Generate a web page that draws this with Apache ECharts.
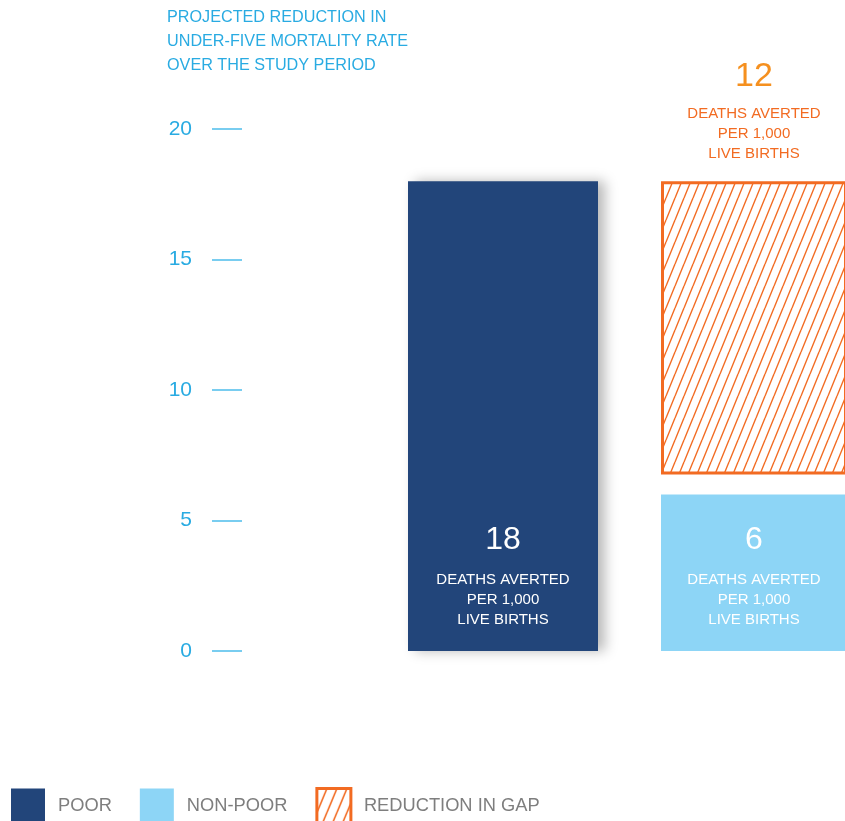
<!DOCTYPE html>
<html lang="en">
<head>
    <meta charset="UTF-8">
    <title>Under-five mortality</title>
    <script type="text/javascript" src="https://cdn.jsdelivr.net/npm/echarts@6/dist/echarts.min.js"></script>
    <style>
        html, body { margin: 0; padding: 0; background: #fff; }
        #chart { width: 845px; height: 821px; }
    </style>
</head>
<body>
<div id="chart"></div>
<script type="text/javascript">
    // data
    var categories = ['POOR', 'NON-POOR'];
    var seriesNames = ['POOR', 'NON-POOR', 'REDUCTION IN GAP'];
    var poorData = [18, '-'];
    var nonPoorData = ['-', 6];
    var gapData = ['-', 12];
    var yTicks = [0, 5, 10, 15, 20];
    var unitLines = ['DEATHS AVERTED', 'PER 1,000', 'LIVE BIRTHS'];
    var titleLines = ['PROJECTED REDUCTION IN', 'UNDER-FIVE MORTALITY RATE', 'OVER THE STUDY PERIOD'];

    var FONT = '"Liberation Sans", Arial, sans-serif';
    var NAVY = '#22457A';
    var SKY = '#8DD5F6';
    var ORANGE = '#F26B22';

    // diagonal hatch pattern
    function makeHatch(w, h, lw) {
        var c = document.createElement('canvas');
        c.width = w; c.height = h;
        var ctx = c.getContext('2d');
        ctx.fillStyle = '#fff';
        ctx.fillRect(0, 0, w, h);
        ctx.strokeStyle = ORANGE;
        ctx.lineWidth = lw;
        for (var k = -1; k <= 1; k++) {
            ctx.beginPath();
            ctx.moveTo(k * w, h);
            ctx.lineTo(k * w + w, 0);
            ctx.stroke();
        }
        return {image: c, repeat: 'repeat'};
    }
    var hatch = makeHatch(9, 22, 1.4);
    var hatchLegend = makeHatch(10, 24, 1.6);

    function labelText(v) {
        return '{n|' + v + '}\n' + unitLines.map(function (s) { return '{t|' + s + '}'; }).join('\n');
    }

    var gapItems = [];
    gapData.forEach(function (v, i) {
        if (v !== '-') gapItems.push([i, nonPoorData[i], v]);
    });

    var barLabel = {
        show: true,
        position: 'insideBottom',
        distance: 21,
        formatter: function (p) { return labelText(p.value); },
        rich: {
            n: {fontFamily: FONT, fontSize: 32, color: '#fff', lineHeight: 60},
            t: {fontFamily: FONT, fontSize: 15, color: '#fff', lineHeight: 20}
        }
    };

    var hiddenCat = {type: 'category', data: categories, boundaryGap: false, show: false};

    var chart = echarts.init(document.getElementById('chart'));
    var option = {
        animation: false,
        title: {
            text: titleLines.join('\n'),
            left: 167,
            top: 6,
            padding: 0,
            textStyle: {fontFamily: FONT, fontSize: 16.2, fontWeight: 'normal', color: '#29ABE2', lineHeight: 24}
        },
        legend: {
            left: 11,
            top: 787,
            padding: 0,
            itemWidth: 34,
            itemHeight: 34,
            itemGap: 28,
            icon: 'rect',
            textStyle: {fontFamily: FONT, fontSize: 18.3, color: '#7E7E7E', padding: [4, 0, 0, 8]},
            data: [
                {name: seriesNames[0], itemStyle: {color: NAVY}},
                {name: seriesNames[1], itemStyle: {color: SKY}},
                {name: seriesNames[2], itemStyle: {color: hatchLegend, borderColor: ORANGE, borderWidth: 3}}
            ]
        },
        // category centres sit on the grid edges (boundaryGap false)
        grid: {left: 503, right: 91, top: 129, bottom: 170},
        // two identical hidden category axes so each bar keeps its own width
        xAxis: [hiddenCat, hiddenCat],
        yAxis: {
            type: 'value',
            min: yTicks[0],
            max: yTicks[yTicks.length - 1],
            interval: 5,
            offset: 261,
            axisLine: {show: false},
            splitLine: {show: false},
            axisTick: {show: true, length: 30, lineStyle: {color: '#4DBDEB', width: 1.5}},
            axisLabel: {margin: 50, fontFamily: FONT, fontSize: 21, color: '#29ABE2'}
        },
        series: [
            {
                name: seriesNames[0],
                type: 'bar',
                xAxisIndex: 0,
                data: poorData,
                barWidth: 190,
                clip: false,
                itemStyle: {color: NAVY, shadowColor: 'rgba(0,0,0,0.28)', shadowBlur: 12, shadowOffsetX: 7},
                label: barLabel
            },
            {
                name: seriesNames[1],
                type: 'bar',
                xAxisIndex: 1,
                data: nonPoorData,
                barWidth: 186,
                clip: false,
                itemStyle: {color: SKY},
                label: barLabel
            },
            {
                name: seriesNames[2],
                type: 'custom',
                xAxisIndex: 1,
                data: gapItems,
                clip: false,
                itemStyle: {color: hatch, borderColor: ORANGE, borderWidth: 3},
                renderItem: function (params, api) {
                    var idx = api.value(0);
                    var base = api.coord([idx, api.value(1)]);
                    var top = api.coord([idx, api.value(1) + api.value(2)]);
                    var w = 186;
                    var x = base[0] - w / 2 + 1.5;
                    var y = top[1] + 1.5;
                    var h = base[1] - 20 - 1.5 - y;
                    return {
                        type: 'rect',
                        shape: {x: x, y: y, width: w - 3, height: h},
                        style: {fill: hatch, stroke: ORANGE, lineWidth: 3},
                        textContent: {
                            style: {
                                text: labelText(api.value(2)),
                                align: 'center',
                                rich: {
                                    n: {fontFamily: FONT, fontSize: 34, fill: '#F5901F', lineHeight: 56, align: 'center'},
                                    t: {fontFamily: FONT, fontSize: 15, fill: ORANGE, lineHeight: 20, align: 'center'}
                                }
                            }
                        },
                        textConfig: {position: 'top', distance: 17}
                    };
                }
            }
        ]
    };
    chart.setOption(option);
</script>
</body>
</html>
